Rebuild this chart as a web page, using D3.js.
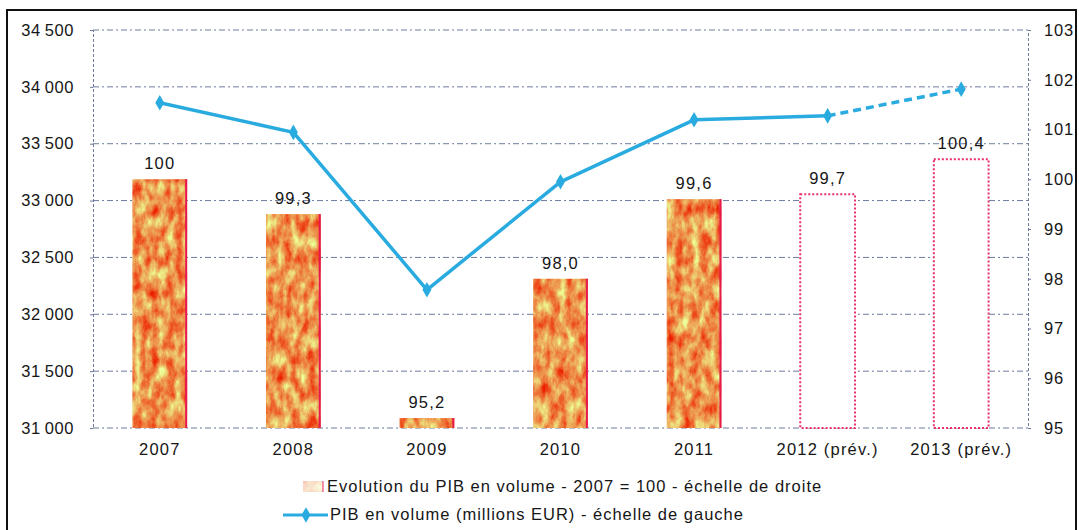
<!DOCTYPE html>
<html>
<head>
<meta charset="utf-8">
<script src="https://cdn.jsdelivr.net/npm/d3@7"></script>
<style>
  body { margin: 0; background: #fff; }
  svg { font-family: "Liberation Sans", Arial, sans-serif; }
</style>
</head>
<body>
<div id="chart"></div>
<script>
// --- data ---
const years = ['2007', '2008', '2009', '2010', '2011', '2012 (prév.)', '2013 (prév.)'];
const indexValues = [100, 99.3, 95.2, 98.0, 99.6, 99.7, 100.4];   // right scale (bars)
const indexLabels = ['100', '99,3', '95,2', '98,0', '99,6', '99,7', '100,4'];
const forecast = [false, false, false, false, false, true, true];
const gdpValues = [33860, 33600, 32215, 33165, 33710, 33745, 33980]; // left scale (line)
const leftTicks = [31000, 31500, 32000, 32500, 33000, 33500, 34000, 34500];
const rightTicks = [95, 96, 97, 98, 99, 100, 101, 102, 103];
const legendLabels = [
  'Evolution du PIB en volume - 2007 = 100 - échelle de droite',
  'PIB en volume (millions EUR) - échelle de gauche'
];

const width = 1079, height = 530;
const plot = { left: 93, right: 1028, top: 30, bottom: 428 };
const blue = '#2aabe0';
const pink = '#e8306a';
const ink = '#161616';

const svg = d3.select('#chart').append('svg')
  .attr('width', width)
  .attr('height', height);

// mottled orange/yellow texture for the bars
const defs = svg.append('defs');
const filt = defs.append('filter').attr('id', 'mottle')
  .attr('x', 0).attr('y', 0).attr('width', '100%').attr('height', '100%')
  .attr('color-interpolation-filters', 'sRGB');
filt.append('feTurbulence')
  .attr('type', 'fractalNoise')
  .attr('baseFrequency', '0.12 0.06')
  .attr('numOctaves', 5)
  .attr('seed', 11)
  .attr('result', 'noise');
filt.append('feColorMatrix')
  .attr('in', 'noise')
  .attr('type', 'matrix')
  .attr('values', '0 0 0 0 0.93  -1.2 0 0 0 1.18  -0.8 0 0 0 0.7  0 0 0 0 1')
  .attr('result', 'col');
filt.append('feComposite')
  .attr('in', 'col').attr('in2', 'SourceGraphic').attr('operator', 'in');

// outer frame
svg.append('rect')
  .attr('x', 7).attr('y', 10)
  .attr('width', 1069).attr('height', 560)
  .attr('fill', 'none')
  .attr('stroke', '#111')
  .attr('stroke-width', 2);

// --- scales ---
const x = d3.scaleBand().domain(years).range([plot.left, plot.right]).paddingInner(0.59).paddingOuter(0.295);
const yLeft = d3.scaleLinear().domain([31000, 34500]).range([plot.bottom, plot.top]);
const yRight = d3.scaleLinear().domain([95, 103]).range([plot.bottom, plot.top]);

// gridlines
svg.append('g')
  .selectAll('line')
  .data(leftTicks)
  .join('line')
  .attr('x1', plot.left).attr('x2', plot.right)
  .attr('y1', d => yLeft(d)).attr('y2', d => yLeft(d))
  .attr('stroke', '#6d7a9c')
  .attr('stroke-width', 1)
  .attr('stroke-dasharray', '6,3,2,3');

// left axis
const fmt = d => d3.format(',')(d).replace(',', '\u2009');
const gl = svg.append('g')
  .attr('transform', `translate(${plot.left},0)`)
  .call(d3.axisLeft(yLeft).tickValues(leftTicks).tickFormat(fmt).tickSize(3).tickPadding(16));
gl.select('.domain').attr('stroke', '#6d7a9c').attr('stroke-dasharray', '3,2');
gl.selectAll('.tick line').attr('stroke', '#6d7a9c');
gl.selectAll('text').attr('font-size', 16.5).attr('fill', ink).attr('letter-spacing', 0.6)
  .attr('font-family', '"Liberation Sans", Arial, sans-serif');

// right axis
const gr = svg.append('g')
  .attr('transform', `translate(${plot.right},0)`)
  .call(d3.axisRight(yRight).tickValues(rightTicks).tickSize(3).tickPadding(13));
gr.select('.domain').attr('stroke', '#6d7a9c').attr('stroke-dasharray', '3,2');
gr.selectAll('.tick line').attr('stroke', '#6d7a9c');
gr.selectAll('text').attr('font-size', 16.5).attr('fill', ink).attr('letter-spacing', 0.8)
  .attr('font-family', '"Liberation Sans", Arial, sans-serif');

// x labels
svg.append('g')
  .selectAll('text')
  .data(years)
  .join('text')
  .attr('x', d => x(d) + x.bandwidth() / 2)
  .attr('y', 455)
  .attr('text-anchor', 'middle')
  .attr('font-size', 16.5)
  .attr('letter-spacing', 1.2)
  .attr('fill', ink)
  .text(d => d);

// bars
const bars = years.map((y, i) => ({ year: y, value: indexValues[i], label: indexLabels[i], fc: forecast[i] }));
const gb = svg.append('g');
gb.selectAll('rect.solid')
  .data(bars.filter(d => !d.fc))
  .join('rect')
  .attr('class', 'solid')
  .attr('x', d => x(d.year))
  .attr('y', d => yRight(d.value))
  .attr('width', x.bandwidth())
  .attr('height', d => yRight(95) - yRight(d.value))
  .attr('fill', '#f0a040')
  .attr('filter', 'url(#mottle)');
gb.selectAll('line.edge')
  .data(bars.filter(d => !d.fc))
  .join('line')
  .attr('class', 'edge')
  .attr('x1', d => x(d.year) + x.bandwidth() - 1)
  .attr('x2', d => x(d.year) + x.bandwidth() - 1)
  .attr('y1', d => yRight(d.value))
  .attr('y2', yRight(95))
  .attr('stroke', '#e8174e')
  .attr('stroke-width', 2);
gb.selectAll('rect.fc')
  .data(bars.filter(d => d.fc))
  .join('rect')
  .attr('class', 'fc')
  .attr('x', d => x(d.year))
  .attr('y', d => yRight(d.value))
  .attr('width', x.bandwidth())
  .attr('height', d => yRight(95) - yRight(d.value))
  .attr('fill', '#fff')
  .attr('stroke', pink)
  .attr('stroke-width', 2)
  .attr('stroke-dasharray', '2,2');

// bar value labels
gb.selectAll('text')
  .data(bars)
  .join('text')
  .attr('x', d => x(d.year) + x.bandwidth() / 2)
  .attr('y', d => yRight(d.value) - 10)
  .attr('text-anchor', 'middle')
  .attr('font-size', 16.5)
  .attr('letter-spacing', 1.2)
  .attr('fill', ink)
  .text(d => d.label);

// line (solid up to 2012, dashed to 2013)
const pts = years.map((y, i) => [x(y) + x.bandwidth() / 2, yLeft(gdpValues[i])]);
const line = d3.line();
svg.append('path')
  .attr('d', line(pts.slice(0, 6)))
  .attr('fill', 'none')
  .attr('stroke', blue)
  .attr('stroke-width', 3.5)
  .attr('stroke-linejoin', 'round');
svg.append('path')
  .attr('d', line(pts.slice(5)))
  .attr('fill', 'none')
  .attr('stroke', blue)
  .attr('stroke-width', 3.5)
  .attr('stroke-dasharray', '8,5');

const diamond = d3.symbol(d3.symbolDiamond).size(70);
svg.append('g')
  .selectAll('path')
  .data(pts)
  .join('path')
  .attr('transform', d => `translate(${d[0]},${d[1]})`)
  .attr('d', diamond)
  .attr('fill', blue);

// legend
const lg = svg.append('g');
lg.append('rect')
  .attr('x', 303).attr('y', 481).attr('width', 20).attr('height', 11)
  .attr('fill', '#f3b27a').attr('opacity', 0.3)
  .attr('filter', 'url(#mottle)');
lg.append('line')
  .attr('x1', 323).attr('x2', 323).attr('y1', 481).attr('y2', 492)
  .attr('stroke', pink).attr('stroke-width', 1.5).attr('opacity', 0.7);
lg.append('text')
  .attr('x', 327).attr('y', 492)
  .attr('font-size', 16.5).attr('letter-spacing', 1.0).attr('fill', ink)
  .text(legendLabels[0]);
lg.append('line')
  .attr('x1', 283).attr('x2', 328).attr('y1', 515).attr('y2', 515)
  .attr('stroke', blue).attr('stroke-width', 3);
lg.append('path')
  .attr('transform', 'translate(306,515)')
  .attr('d', diamond)
  .attr('fill', blue);
lg.append('text')
  .attr('x', 330).attr('y', 520)
  .attr('font-size', 16.5).attr('letter-spacing', 1.0).attr('fill', ink)
  .text(legendLabels[1]);
</script>
</body>
</html>
